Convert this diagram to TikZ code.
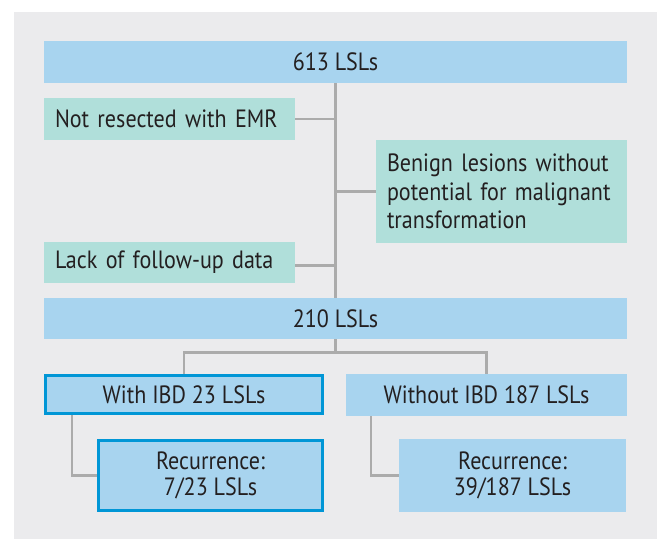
\documentclass[tikz,border=0pt]{standalone}
\usepackage{fontspec}
\setmainfont{PT Sans}[FakeStretch=0.883]
\usetikzlibrary{positioning}
\definecolor{bgGrey}{HTML}{EBEBED}
\definecolor{boxBlue}{HTML}{A8D4EF}
\definecolor{boxTeal}{HTML}{B0DFDA}
\definecolor{lineGrey}{HTML}{ABABAB}
\definecolor{ibdBlue}{HTML}{0096D6}
\definecolor{txtDark}{HTML}{231F20}
\tikzstyle{lbl}    = [inner sep=0pt, outer sep=0pt, text=txtDark, font=\fontsize{25}{28.5}\selectfont]
\tikzstyle{total}  = [lbl, fill=boxBlue, minimum width=583pt, minimum height=42pt]
\tikzstyle{excl}   = [lbl, fill=boxTeal, minimum height=42pt, text width=229pt, inner xsep=11pt, align=left]
\tikzstyle{grp}    = [lbl, fill=boxBlue, minimum width=281pt, minimum height=42pt]
\tikzstyle{rec}    = [lbl, fill=boxBlue, minimum width=227pt, minimum height=73pt, align=center]
\tikzstyle{ibd}    = [draw=ibdBlue, line width=3pt, outer sep=1.5pt]
\tikzstyle{link}   = [draw=lineGrey, line width=2.4pt]

\begin{document}
\begin{tikzpicture}[x=1pt, y=1pt]
\useasboundingbox (0,0) rectangle (662,-539);
\fill[bgGrey] (14,-12) rectangle (657,-539);

% Define nodes
\node[total, anchor=north west]                                  (lsl613) at (44,-41) {613 LSLs};
\node[excl, below=15pt of lsl613.south west, anchor=north west]  (emr)    {Not resected with EMR};
\node[excl, right=81pt of emr.south east, anchor=north west,
      minimum height=103pt, text width=229pt, inner xsep=11pt]   (benign) {Benign lesions without\\potential for malignant\\transformation};
\node[excl, below=102pt of emr.south west, anchor=north west,
      minimum height=41pt]                                       (lack)   {Lack of follow-up data};
\node[total, below=15pt of lack.south west, anchor=north west,
      minimum height=41pt]                                       (lsl210) {210 LSLs};

\node[grp, ibd, below=35pt of lsl210.south west, anchor=north west,
      minimum width=277pt, minimum height=38pt]                  (withibd) {With IBD 23 LSLs};
\node[grp, right=22pt of withibd.north east, anchor=north west]  (noibd)   {Without IBD 187 LSLs};
\node[rec, ibd, below right=24pt and 53pt of withibd.south west, anchor=north west,
      minimum width=224pt, minimum height=70pt]                  (recibd)  {Recurrence:\\[-2pt]7/23 LSLs};
\node[rec, below right=23pt and 53pt of noibd.south west, anchor=north west] (recno) {Recurrence:\\[-2pt]39/187 LSLs};

\coordinate[below=13.5pt of lsl210.south] (fork);

% Edges
\draw[link] (lsl613) -- (lsl210);
\draw[link] (emr) -- (emr -| lsl613);
\draw[link] (benign) -- (benign -| lsl613);
\draw[link] ([yshift=-3pt]lack.east) -- ([yshift=-3pt]lack.east -| lsl613);
\draw[link] (lsl210) -- (fork);
\draw[link] (withibd.north) |- (fork) -| (noibd.north);
\draw[link] ([xshift=28pt]withibd.south west) |- (recibd.west);
\draw[link] ([xshift=25pt]noibd.south west) |- (recno.west);
\end{tikzpicture}
\end{document}
